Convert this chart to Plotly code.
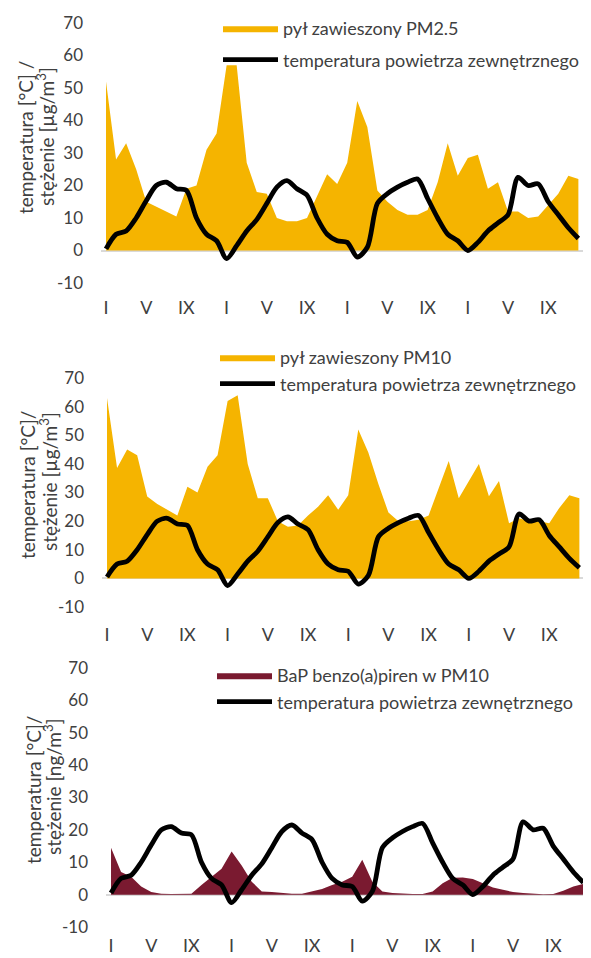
import plotly.graph_objects as go

months = list(range(1, 49))
tick_vals = [1, 5, 9, 13, 17, 21, 25, 29, 33, 37, 41, 45]
tick_text = ["I", "V", "IX", "I", "V", "IX", "I", "V", "IX", "I", "V", "IX"]
y_ticks = [-10, 0, 10, 20, 30, 40, 50, 60, 70]
y_tick_text = ["-10", "0", "10", "20", "30", "40", "50", "60", "70"]

temperature = [0.5, 5, 6, 10, 15.3, 20, 21, 19, 18.5, 10, 5, 3,
               -2.5, 1.5, 6, 9.5, 14.5, 19.5, 21.5, 19, 17, 10, 5, 3,
               2.5, -2, 1, 14.5, 17.5, 19.5, 21, 22, 16, 10, 5, 3,
               0, 2.5, 6, 8.5, 11, 22.5, 20, 20.5, 15, 11, 7, 3.7]

pm25 = [52, 28, 33, 25, 15, 13.5, 12, 10.5, 19, 20, 31, 36,
        57, 57, 27, 18, 17.5, 10, 9, 9, 10, 17, 23.5, 20.5,
        27, 46, 38, 18.5, 15, 12.5, 11, 11, 12.5, 21, 33, 23,
        28.5, 29.5, 19, 21, 12, 12, 10, 10.5, 14, 17.5, 23, 22]

pm10 = [63, 38.6, 45, 43, 28.6, 26, 24, 22, 32, 30, 39, 43,
        62, 64, 40, 28, 28, 20, 18, 18.5, 22, 25, 29, 24,
        29, 52, 44, 33, 23, 20, 20, 20.5, 22, 31.6, 41, 28,
        34, 40, 28.7, 34, 19.3, 21, 20, 20, 19.3, 24.6, 29, 28]

bap = [14.5, 7, 5.5, 2.5, 0.8, 0.3, 0.2, 0.2, 0.3, 3, 5.5, 8,
       13.3, 9, 4, 1, 0.8, 0.5, 0.3, 0.3, 1, 1.7, 3, 4,
       5.5, 10.8, 4, 1, 0.5, 0.3, 0.2, 0.2, 1, 3.5, 5.2, 5.3,
       4.8, 3.5, 2.2, 1.5, 0.8, 0.5, 0.2, 0.1, 0.2, 1.2, 2.5, 3.3]

name_pm25 = "pył zawieszony PM2.5"
name_pm10 = "pył zawieszony PM10"
name_bap = "BaP benzo(a)piren w PM10"
name_temp = "temperatura powietrza zewnętrznego"

title_line1 = ["temperatura [°C] /", "temperatura [°C]/", "temperatura [°C]/"]
title_line2 = ["stężenie [µg/m<sup>3</sup>]", "stężenie [µg/m<sup>3</sup>]",
               "stężenie [ng/m<sup>3</sup>]"]

ORANGE = "#F5B400"
MAROON = "#7A1A30"
TXT = "#404040"
W, H = 591, 958
OFF = 8  # page body margin
FONT = "Lato, 'Open Sans', sans-serif"


def fx(px):
    return (px - OFF) / W


def fy(py):
    return (H - (py - OFF)) / H


# page-pixel geometry of the three panels: (x_left, x_right, y_top, y_bottom)
panels = [(101, 583.4, 23, 283), (102, 584.4, 378, 607), (106, 588.4, 668, 927)]
series = [(pm25, name_pm25, ORANGE), (pm10, name_pm10, ORANGE), (bap, name_bap, MAROON)]
legend_pos = [(218, 10), (215, 339), (212, 657)]
legend_gap = [5, 0, 0]
x_standoff = [12, 15, 6]
title_pos = [((25, 138), (45, 137)), ((27, 485), (48, 482)), ((33, 790), (53, 787))]

fig = go.Figure()
layout = dict(width=W, height=H, margin=dict(l=0, r=0, t=0, b=0, autoexpand=False),
              template="none",
              paper_bgcolor="white", plot_bgcolor="white", showlegend=True,
              font=dict(family=FONT, size=17, color=TXT), annotations=[])

for i, ((x0, x1, yt, yb), (vals, nm, col)) in enumerate(zip(panels, series)):
    sfx = "" if i == 0 else str(i + 1)
    leg = "legend" if i == 0 else f"legend{i + 1}"
    fig.add_trace(go.Scatter(x=months, y=vals, name=nm, mode="lines",
                             fill="tozeroy", fillcolor=col, line=dict(width=0, color=col),
                             xaxis="x" + sfx, yaxis="y" + sfx, legend=leg,
                             legendgroup=f"a{i}", hoverinfo="skip"))
    fig.add_trace(go.Scatter(x=months, y=temperature, name=name_temp, mode="lines",
                             line=dict(color="black", width=4.8, shape="spline", smoothing=0.8),
                             xaxis="x" + sfx, yaxis="y" + sfx, legend=leg,
                             legendgroup=f"b{i}", hoverinfo="skip"))
    layout["xaxis" + sfx] = dict(domain=[fx(x0), fx(x1)], range=[0.5, 48.5],
                                 tickvals=tick_vals, ticktext=tick_text, showgrid=False,
                                 zeroline=False, showline=False, ticks="", automargin=False,
                                 ticklabelstandoff=x_standoff[i],
                                 anchor="y" + sfx, tickfont=dict(size=18, color=TXT))
    layout["yaxis" + sfx] = dict(domain=[fy(yb), fy(yt)], range=[-10, 70],
                                 tickvals=y_ticks, ticktext=y_tick_text, showgrid=False,
                                 zeroline=True, zerolinecolor="#D9D9D9", zerolinewidth=1.5,
                                 automargin=False, showline=False, ticks="",
                                 ticklabelstandoff=17,
                                 anchor="x" + sfx, tickfont=dict(size=17, color=TXT))
    lx, ly = legend_pos[i]
    layout[leg] = dict(x=fx(lx), y=fy(ly), xanchor="left", yanchor="top",
                       bgcolor="rgba(255,255,255,0)", borderwidth=0,
                       font=dict(size=18, color=TXT, family=FONT),
                       itemwidth=55, tracegroupgap=legend_gap[i], traceorder="grouped")
    for (tx, ty), txt in zip(title_pos[i], (title_line1[i], title_line2[i])):
        layout["annotations"].append(dict(text=txt, x=fx(tx), y=fy(ty),
                                          xref="paper", yref="paper", showarrow=False,
                                          textangle=-90, xanchor="center", yanchor="middle",
                                          font=dict(size=19, color=TXT, family=FONT)))

fig.update_layout(**layout)
fig.write_html("out.html")
